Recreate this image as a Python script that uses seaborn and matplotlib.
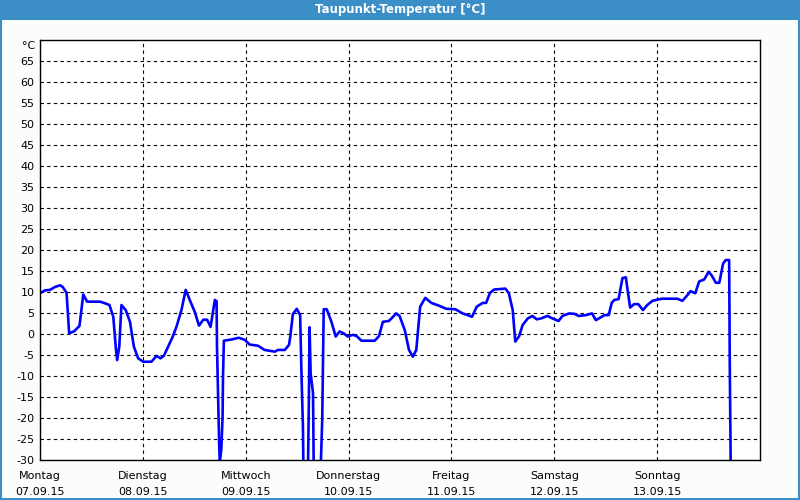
import numpy as np
import pandas as pd
import matplotlib
matplotlib.use("Agg")
import matplotlib.pyplot as plt
import matplotlib.transforms as mtransforms
import seaborn as sns
from matplotlib.patches import Rectangle

# ---- data ----
hours = [0.0, 1.2, 2.3, 3.5, 4.7, 5.3, 6.2, 6.8, 7.9, 9.2, 10.1, 11.0, 14.0, 15.2, 16.2,
         17.1, 17.7, 18.0, 18.5, 19.0, 20.0, 21.0, 21.9, 22.9, 24.1, 26.0, 27.2, 28.1,
         28.9, 29.9, 30.9, 31.9, 33.0, 34.0, 35.1, 36.1, 37.1, 38.1, 39.0, 39.8, 40.8,
         41.2, 41.3, 41.55, 41.8, 41.95, 42.3, 42.6, 42.7, 42.9, 44.7, 46.4, 47.8, 48.9,
         50.9, 52.4, 54.8, 55.5, 57.1, 58.1, 58.4, 59.0, 59.9, 60.7, 61.0, 61.35, 61.5,
         62.5, 62.75, 62.9, 63.15, 63.7, 63.9, 65.4, 65.85, 66.2, 66.9, 68.0, 69.0, 69.9,
         70.8, 71.8, 73.0, 73.9, 75.0, 78.1, 79.1, 80.0, 81.4, 82.2, 83.1, 83.9, 85.1,
         86.1, 87.0, 87.8, 88.7, 89.9, 91.3, 93.2, 94.8, 96.9, 98.6, 99.8, 100.8, 101.9,
         103.3, 104.1, 105.0, 106.0, 108.6, 109.4, 110.3, 110.9, 111.8, 112.6, 113.8,
         114.9, 115.9, 116.9, 118.4, 119.6, 121.0, 121.9, 123.5, 124.7, 125.7, 127.4,
         128.8, 129.7, 130.9, 131.7, 132.7, 133.4, 134.0, 135.0, 135.9, 136.7, 137.1,
         137.7, 138.6, 139.6, 140.7, 141.7, 142.9, 143.8, 145.1, 148.7, 149.9, 151.1,
         151.8, 152.9, 153.8, 155.0, 156.0, 156.7, 157.7, 158.5, 159.4, 160.0, 160.8,
         160.95, 161.2]
dewpoint = [9.7, 10.4, 10.5, 11.2, 11.6, 11.2, 9.8, 0.2, 0.6, 1.9, 9.4, 7.7, 7.7, 7.3, 6.9,
            4.1, -3.4, -6.2, -3.0, 6.9, 5.7, 2.9, -3.0, -5.8, -6.6, -6.6, -5.2, -5.8,
            -5.2, -3.0, -0.8, 1.9, 5.7, 10.5, 7.7, 5.3, 2.0, 3.4, 3.4, 1.7, 8.1,
            7.8, -3.0, -14.5, -26.0, -30.5, -27.6, -19.7, -10.2, -1.6, -1.3, -0.9, -1.4, -2.5,
            -2.8, -3.8, -4.2, -3.8, -3.8, -2.6, -0.6, 4.7, 6.0, 4.5, -9.0, -22.0, -35.0,
            -35.0, -14.5, 1.6, -9.4, -14.0, -35.0, -35.0, -20.5, 5.9, 5.9, 2.9, -0.6, 0.6,
            0.2, -0.6, -0.2, -0.5, -1.6, -1.6, -0.5, 2.9, 3.1, 3.9, 4.9, 4.3, 0.95,
            -3.8, -5.4, -3.8, 6.5, 8.6, 7.4, 6.7, 6.0, 5.9, 4.9, 4.5, 4.1, 6.5,
            7.4, 7.4, 9.8, 10.6, 10.8, 9.7, 5.7, -1.8, -0.5, 2.1, 3.7,
            4.3, 3.5, 3.7, 4.3, 3.7, 3.1, 4.3, 4.9, 4.8, 4.3, 4.5,
            4.9, 3.3, 4.0, 4.5, 4.5, 7.4, 8.1, 8.3, 13.3, 13.5, 10.5,
            6.3, 7.1, 7.1, 5.7, 6.9, 7.9, 8.1, 8.4, 8.4, 7.9, 9.3,
            10.2, 9.7, 12.5, 13.0, 14.8, 14.0, 12.2, 12.2, 16.8, 17.6, 17.6,
            -7.8, -35.0]
day_names = ["Montag", "Dienstag", "Mittwoch", "Donnerstag", "Freitag", "Samstag", "Sonntag"]
day_dates = ["07.09.15", "08.09.15", "09.09.15", "10.09.15", "11.09.15", "12.09.15", "13.09.15"]
y_ticks = list(range(-30, 70, 5))

df = pd.DataFrame({"hour": hours, "value": dewpoint})

BLUE_BAR = "#3c8ec6"
sns.set_theme(style="white")
plt.rcParams["font.family"] = ["DejaVu Sans"]

fig = plt.figure(figsize=(8, 5), dpi=100, facecolor="#fbfdfb")
ax = fig.add_axes([40 / 800, 40 / 500, 720 / 800, 420 / 500])
ax.set_facecolor("white")

sns.lineplot(data=df, x="hour", y="value", ax=ax, color="#0000ff", linewidth=1.9,
             estimator=None, sort=False, zorder=3)

ax.set_xlim(0, 168)
ax.set_ylim(-30, 70)
ax.set_yticks(y_ticks)
ax.set_yticklabels([str(v) for v in y_ticks])
ax.set_xticks([24 * i for i in range(7)])
ax.set_xticklabels([f"{n}\n{d}" for n, d in zip(day_names, day_dates)], linespacing=1.7)
ax.tick_params(axis="both", length=0, labelsize=8, colors="black")
ax.tick_params(axis="y", pad=4)
ax.tick_params(axis="x", pad=8)
ax.set_xlabel("")
ax.set_ylabel("")
ax.grid(True, color="black", linestyle=(0, (3, 3)), linewidth=0.8)
for s in ax.spines.values():
    s.set_visible(True)
    s.set_color("black")
    s.set_linewidth(1.0)
    s.set_zorder(4)

ax.text(-0.006, 68.6, "°C",
        transform=mtransforms.blended_transform_factory(ax.transAxes, ax.transData),
        ha="right", va="center", fontsize=8, color="black")

# title bar
fig.patches.append(Rectangle((0, 480 / 500), 1, 20 / 500, transform=fig.transFigure,
                             facecolor=BLUE_BAR, edgecolor="none", zorder=0))
fig.text(0.5, 490 / 500, "Taupunkt-Temperatur [°C]", ha="center", va="center",
         color="white", fontsize=8.5, fontweight="bold")
# outer frame
fig.patches.append(Rectangle((0.5 / 800, 1 / 500), 798.5 / 800, 480 / 500, transform=fig.transFigure,
                             facecolor="none", edgecolor=BLUE_BAR, linewidth=1.5, zorder=0))

fig.savefig("out.png", dpi=100, facecolor=fig.get_facecolor())
